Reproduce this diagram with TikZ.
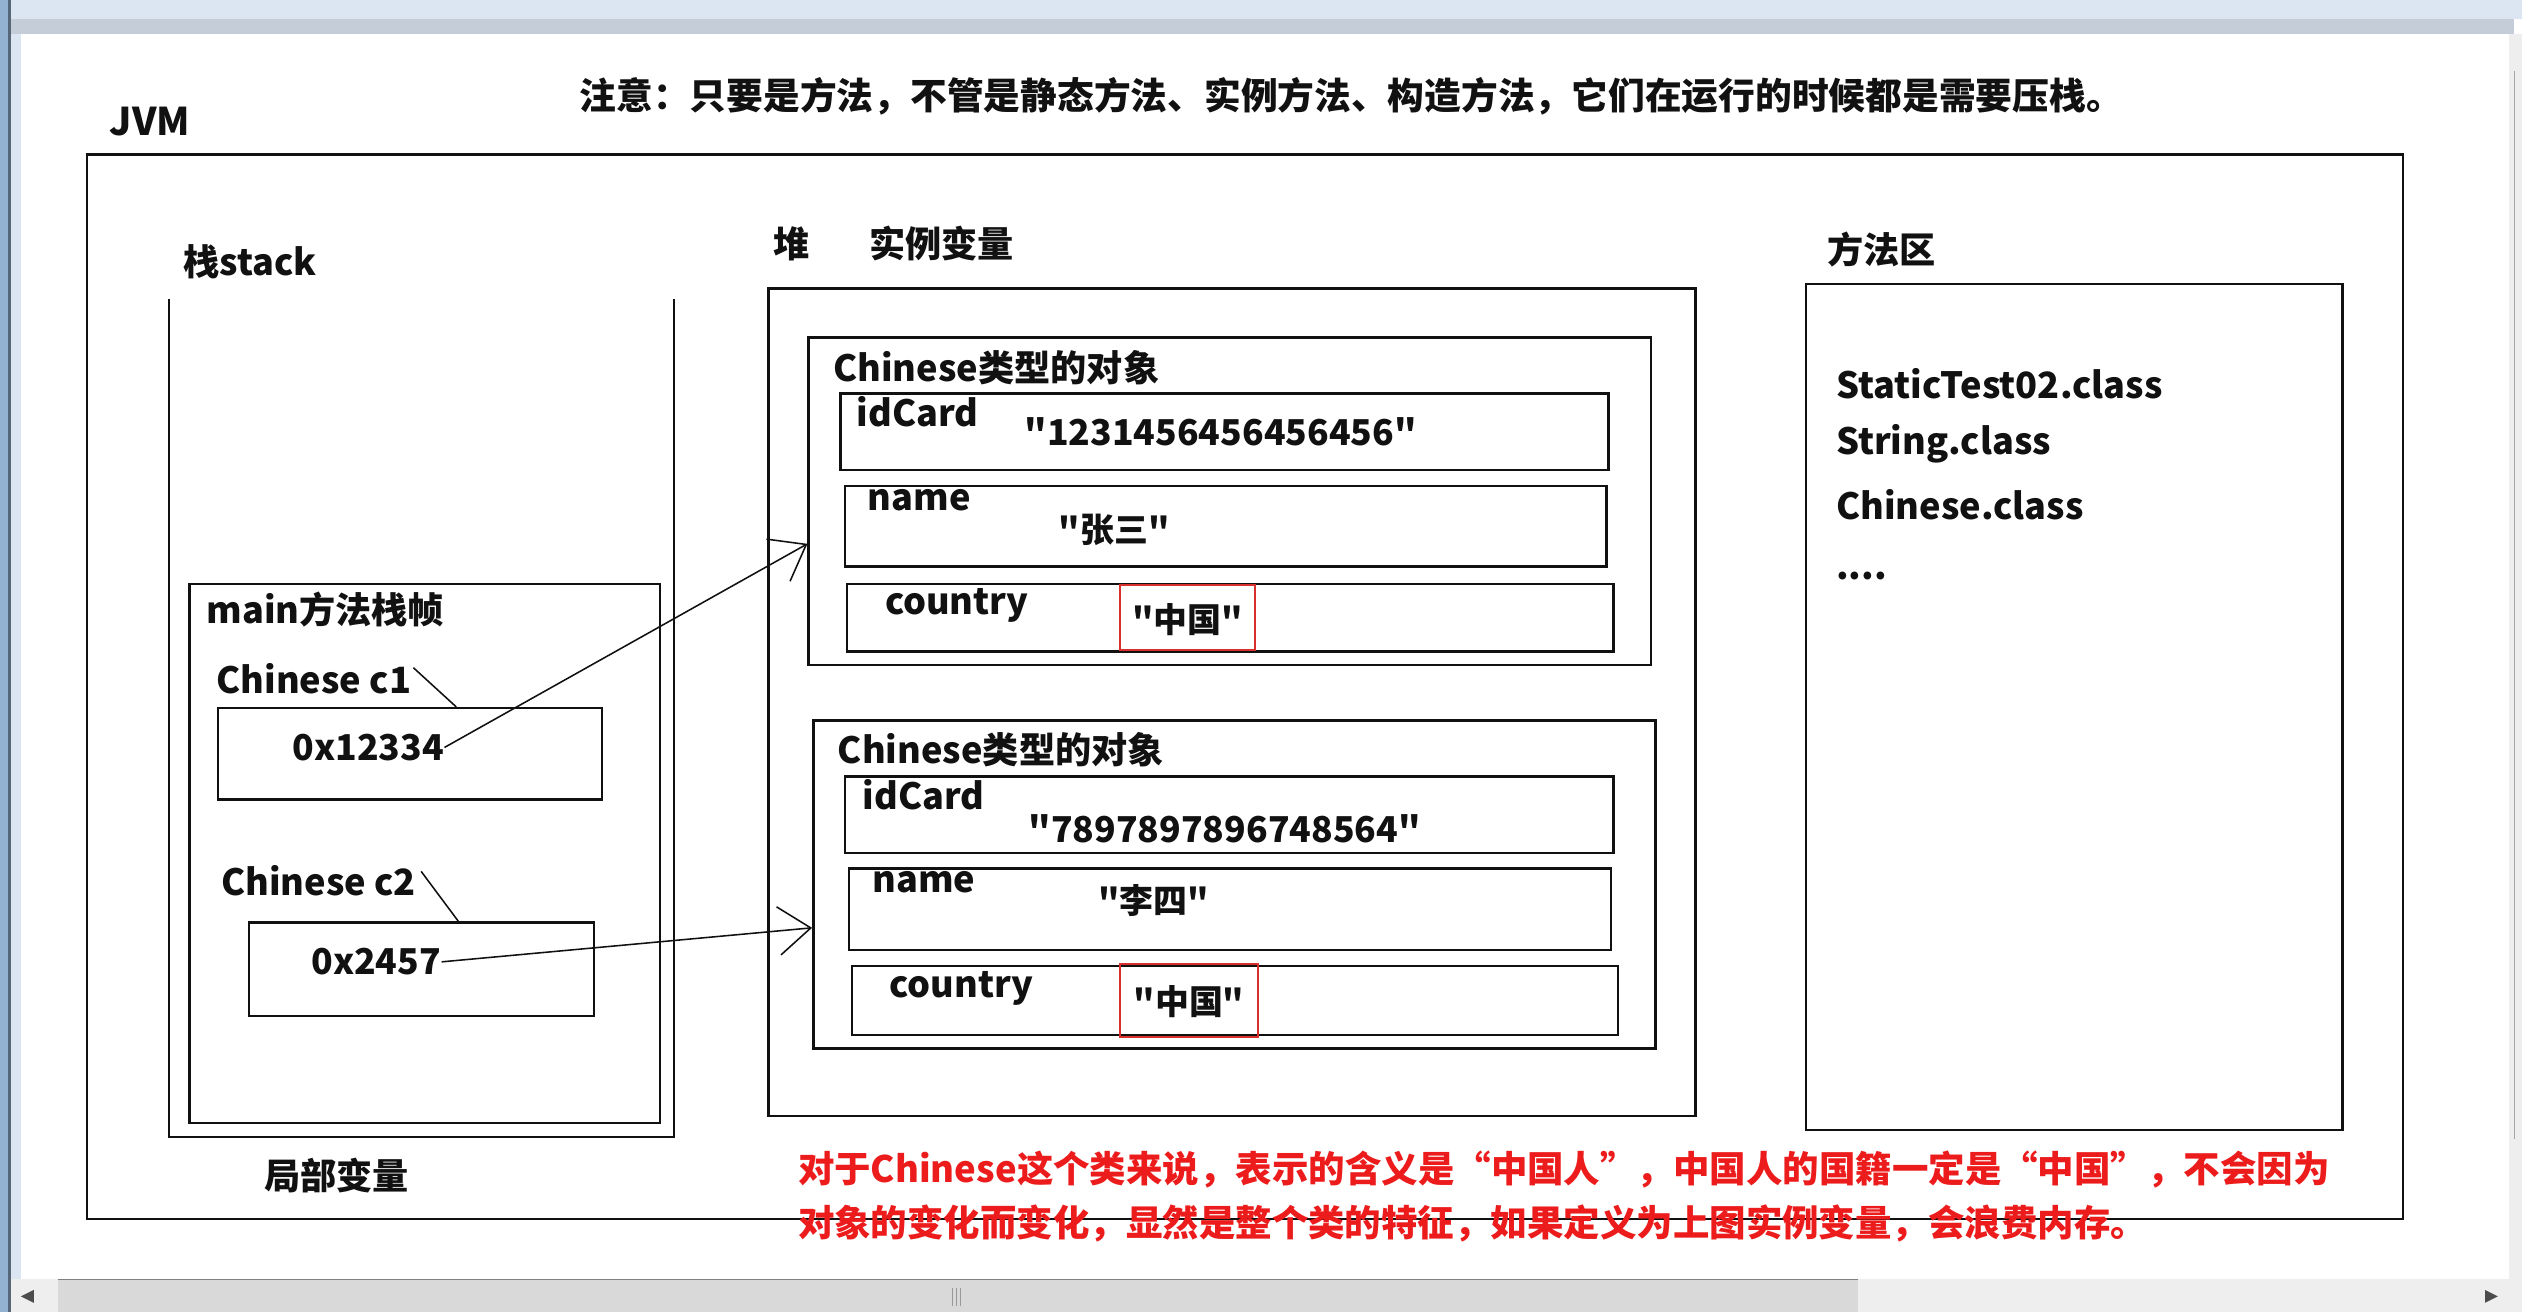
\documentclass[tikz,border=0pt]{standalone}
\usepackage{fontspec}
\setmainfont{Noto Sans CJK SC}[Ligatures=TeXOff]
\usetikzlibrary{arrows.meta,positioning,calc,fit}
\definecolor{ink}{HTML}{111111}
\definecolor{alert}{HTML}{EC1C1C}
\definecolor{frame}{HTML}{D8302C}
\definecolor{chrome}{HTML}{DCE6F3}
\definecolor{rail}{HTML}{C4CDD8}
\definecolor{edge}{HTML}{56677A}
\definecolor{side}{HTML}{93B2D1}
\definecolor{track}{HTML}{EEEEEE}
\definecolor{thumb}{HTML}{D9D9D9}
\tikzset{
  box/.style={draw=ink,line width=0.9pt,inner sep=0pt},
  hit/.style={draw=frame,line width=0.7pt,inner sep=0pt},
  lbl/.style={font=\bfseries\fontsize{12.8}{15}\selectfont,text=ink,inner sep=0pt,anchor=west},
  val/.style={font=\bfseries\fontsize{12.6}{15}\selectfont,text=ink,inner sep=0pt,anchor=west},
  hanval/.style={val,font=\bfseries\fontsize{12}{14}\selectfont},
  remark/.style={font=\bfseries\fontsize{12.9}{15}\selectfont,text=alert,inner sep=0pt,anchor=west},
  ptr/.style={-{Straight Barb[length=4mm,width=6mm]},line width=0.55pt,draw=ink},
  tick/.style={line width=0.55pt,draw=ink}
}

\begin{document}
\begin{tikzpicture}[x=0.2mm,y=-0.2mm]
    \useasboundingbox (0,0) rectangle (1568,816);
    \fill[chrome] (0,0) rectangle (1568,11.5);
    \fill[rail] (7,11.5) rectangle (1563,21);
    \fill[side] (0,0) rectangle (5,816);
    \fill[edge] (5,0) rectangle (7,816);
    \fill[chrome] (7,21) rectangle (13,795);
    \fill[track] (1560,21) rectangle (1568,795);
    \draw[gray!70] (1563.5,44) -- (1563.5,708);
    \fill[track] (7,795) rectangle (1568,816);
    \fill[thumb] (36,795) rectangle (1155,816);
    \draw[gray] (36,795.5) -- (1155,795.5);
    \foreach \x in {592,594.5,597}
      \draw[gray!80] (\x,801) -- (\x,812);
    \fill[ink!75] (13,806) -- (21,802) -- (21,810) -- cycle;
    \fill[ink!75] (1553,806) -- (1545,802) -- (1545,810) -- cycle;

    \node[lbl,font=\bfseries\fontsize{13}{15}\selectfont] (tip) at (360,60)
      {注意：只要是方法，不管是静态方法、实例方法、构造方法，它们在运行的时候都是需要压栈。};
    \node[lbl,font=\bfseries\fontsize{13.5}{16}\selectfont] (jvm) at (68,75.7) {JVM};
    \node[box,fit={(54,96) (1494,758)}] (jvmbox) {};

    \node[lbl] (stklbl) at (113.7,162.7) {栈stack};
    \draw[box] (105,186) |- (419,707) -- (419,186);
    \node[box,fit={(117.7,363) (410.4,698.3)}] (mainframe) {};
    \node[lbl] (mainlbl) at (128,379) {main方法栈帧};
    \node[lbl] (varA) at (134.3,422) {Chinese c1};
    \node[box,fit={(135.5,440.3) (374.2,496.9)}] (slotA) {};
    \node[val] (refA) at (181.5,464.7) {0x12334};
    \node[lbl] (varB) at (137.1,547.6) {Chinese c2};
    \node[box,fit={(154.9,573.7) (369.4,631.8)}] (slotB) {};
    \node[val] (refB) at (193.2,598) {0x2457};
    \node[lbl] (locals) at (164,731) {局部变量};

    \node[lbl] (heaplbl) at (480.5,151.5) {堆};
    \node[lbl] (fieldlbl) at (540,151.5) {实例变量};
    \node[box,fit={(477.7,179.3) (1054,693.7)}] (heap) {};

    \node[box,fit={(502.8,209.7) (1026.4,413.5)}] (objA) {};
    \node[lbl] (titleA) at (517.8,228.4) {Chinese类型的对象};
    \node[box,fit={(522.4,244.6) (1000,292.2)}] (idA) {};
    \node[lbl] at (532.4,256) {idCard};
    \node[val] at (636.7,268.4) {"1231456456456456"};
    \node[box,fit={(525.3,302.2) (998.9,352.3)}] (nameA) {};
    \node[lbl] at (539.2,310.9) {name};
    \node[hanval] at (658,329.5) {"张三"};
    \node[box,fit={(526.7,363.1) (1003.2,405.2)}] (countryA) {};
    \node[lbl] at (549.9,376.2) {country};
    \node[hit,fit={(696.6,363.7) (780.1,404.1)}] (markA) {};
    \node[hanval,anchor=center] at ($(markA.center)+(0,1.5)$) {"中国"};

    \node[box,fit={(505.7,448.1) (1029.2,651.8)}] (objB) {};
    \node[lbl] (titleB) at (520.6,466.3) {Chinese类型的对象};
    \node[box,fit={(525.3,482.9) (1003.2,530.2)}] (idB) {};
    \node[lbl] at (536,494.3) {idCard};
    \node[val] at (639.2,515) {"7897897896748564"};
    \node[box,fit={(527.8,539.9) (1001.7,590.7)}] (nameB) {};
    \node[lbl] at (542,548.2) {name};
    \node[hanval] at (682.4,559.6) {"李四"};
    \node[box,fit={(529.6,600.6) (1006,643.5)}] (countryB) {};
    \node[lbl] at (552.7,614.5) {country};
    \node[hit,fit={(696.6,599.6) (781.9,645)}] (markB) {};
    \node[hanval,anchor=center] at ($(markB.center)+(0,0.5)$) {"中国"};

    \node[lbl] (methodlbl) at (1135.7,155.4) {方法区};
    \node[box,fit={(1122.9,176.6) (1456.4,702.6)}] (method) {};
    \node[lbl] (clsA) at (1141.2,238.3) {StaticTest02.class};
    \node[lbl] (clsB) at (1141.2,276) {String.class};
    \node[lbl] (clsC) at (1141.2,314) {Chinese.class};
    \node[lbl,anchor=base west] (clsD) at (1141.2,360) {....};

    \draw[tick] ($(varA.north east)+(1,3)$) -- ($(slotA.north west)!0.62!(slotA.north east)$);
    \draw[tick] ($(varB.north east)+(3,4)$) -- ($(slotB.north west)!0.606!(slotB.north east)$);
    \draw[ptr] (refA.east) -- ($(objA.north west)!0.629!(objA.south west)$);
    \draw[ptr] (refB.east) -- ($(objB.north west)!0.631!(objB.south west)$);

    \node[remark] (remA) at (495.8,727.4)
      {对于Chinese这个类来说，表示的含义是“中国人”，中国人的国籍一定是“中国”，不会因为};
    \node[remark] (remB) at (495.8,760.6)
      {对象的变化而变化，显然是整个类的特征，如果定义为上图实例变量，会浪费内存。};
  \end{tikzpicture}
\end{document}
